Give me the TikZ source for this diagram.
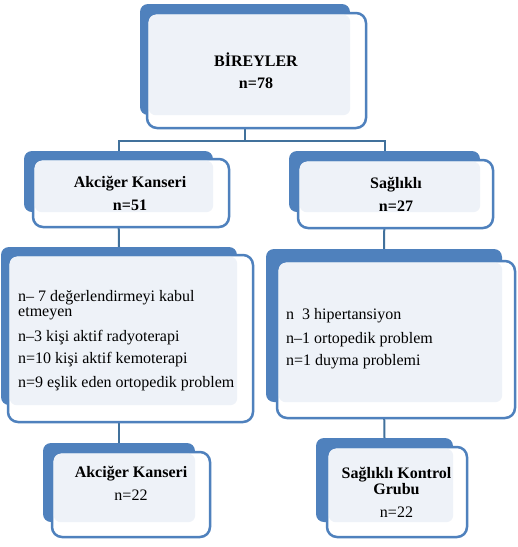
\documentclass[tikz,border=0pt]{standalone}
\usepackage{fontspec}
\setmainfont{Liberation Serif}
\usetikzlibrary{fit,backgrounds}
\definecolor{bblue}{HTML}{4F81BD}
\definecolor{lfill}{HTML}{EEF2F8}
\definecolor{cblue}{HTML}{41719C}
\tikzset{
 backbox/.style={fill=bblue, draw=none, rounded corners=8pt, inner sep=0pt},
 frontbox/.style={fill=white, draw=bblue, line width=2.5pt, rounded corners=10pt, inner sep=0pt},
 lightfill/.style={fill=lfill, rounded corners=7pt},
 conn/.style={draw=cblue, line width=2pt},
 head/.style={font=\fontsize{16}{19}\selectfont\bfseries, anchor=base, inner sep=0pt},
 plain/.style={font=\fontsize{16}{19}\selectfont, anchor=base, inner sep=0pt},
 item/.style={font=\fontsize{16}{19}\selectfont, anchor=base west, inner sep=0pt},
}
\newcommand\flowbox[9]{%
 \node[backbox, fit={(#2,#3)(#4,#5)}] (#1) {};
 \node[frontbox, fit={(#6,#7)(#8,#9)}] (#1f) {};
 \fill[lightfill] ([shift={(3pt,-3pt)}]#1f.north west) rectangle (#1.south east);
}
\begin{document}
\begin{tikzpicture}[x=1pt,y=-1pt]
\useasboundingbox (0,0) rectangle (518,547);
% boxes
\flowbox{b1}{140}{4}{350}{115}{147}{13}{366}{128}
\flowbox{b2}{24}{151}{213}{212}{33}{159}{229}{227}
\flowbox{b3}{289}{151}{480}{212}{298}{160}{493}{228}
\flowbox{b4}{1}{247}{237}{405}{8}{255}{253}{422}
\flowbox{b5}{266}{249}{502}{402}{277}{261}{515}{418}
\flowbox{b6}{43}{443}{195}{522}{52}{452}{210}{537}
\flowbox{b7}{316}{438}{453}{522}{327}{447}{467}{537}
% texts
\node[head] (t1a) at (256,66) {BİREYLER};
\node[head] (t1b) at (256,88) {n=78};
\node[head] (t2a) at (130,187) {Akciğer Kanseri};
\node[head] (t2b) at (130,210) {n=51};
\node[head] (t3a) at (396,188) {Sağlıklı};
\node[head] (t3b) at (396,211.5) {n=27};
\node[item] (t4a) at (18,301.5) {n– 7 değerlendirmeyi kabul};
\node[item] (t4b) at (18,316) {etmeyen};
\node[item] (t4c) at (18,341) {n–3 kişi aktif radyoterapi};
\node[item] (t4d) at (18,363) {n=10 kişi aktif kemoterapi};
\node[item] (t4e) at (18,387) {n=9 eşlik eden ortopedik problem};
\node[item] (t5a) at (286,319) {n\ \ 3 hipertansiyon};
\node[item] (t5b) at (286,343) {n–1 ortopedik problem};
\node[item] (t5c) at (286,365) {n=1 duyma problemi};
\node[head] (t6a) at (131,477) {Akciğer Kanseri};
\node[plain] (t6b) at (131,500) {n=22};
\node[head] (t7a) at (396.5,478) {Sağlıklı Kontrol};
\node[head] (t7b) at (396.5,494) {Grubu};
\node[plain] (t7c) at (396.5,517) {n=22};
% connectors
\begin{pgfonlayer}{background}
 \fill[white] (0,0) rectangle (518,547);
 \coordinate (jy) at (0,141);
 \draw[conn] (b1.south) -- (b1.south |- jy) -| (b2.north);
 \draw[conn] (b1.south |- jy) -| (b3.north);
 \draw[conn] (b2.south) -- (b4.north);
 \draw[conn] (b4.south) -- (b6.north);
 \draw[conn] (b3.south) -- (b5.north);
 \draw[conn] (b5.south) -- (b7.north);
\end{pgfonlayer}
\end{tikzpicture}
\end{document}
